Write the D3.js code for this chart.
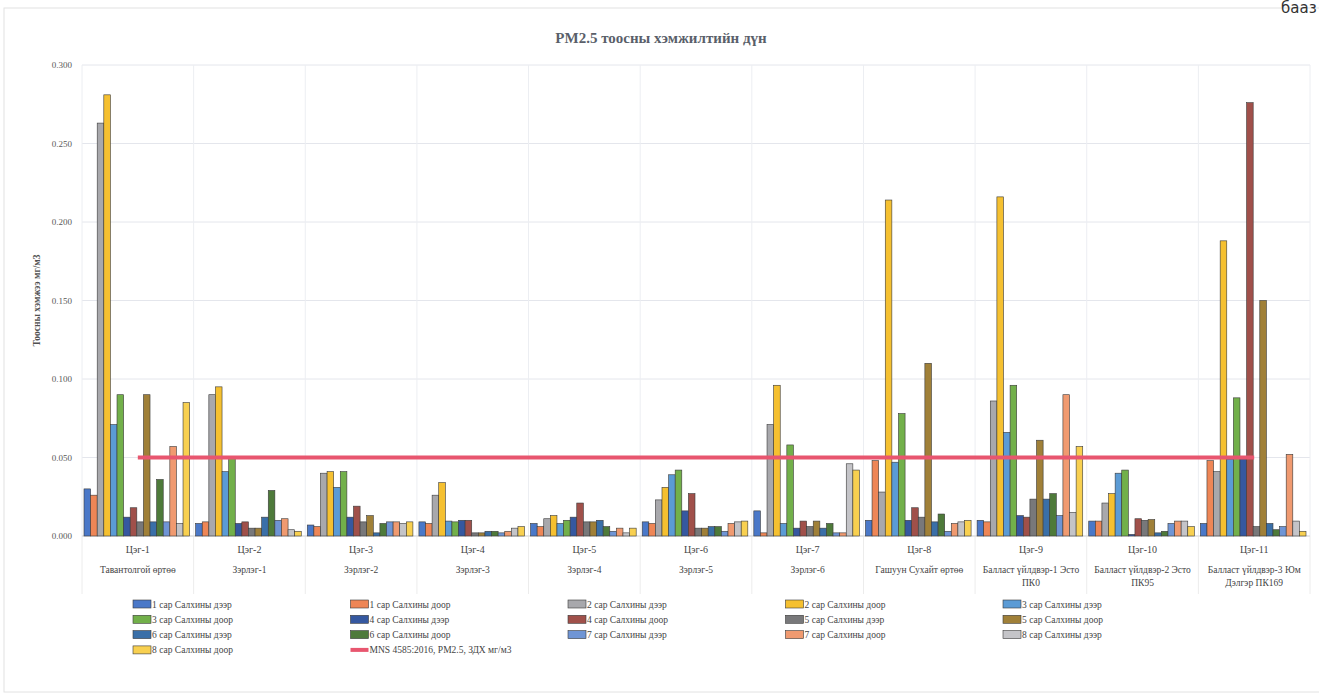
<!DOCTYPE html>
<html>
<head>
<meta charset="utf-8">
<script src="https://cdn.jsdelivr.net/npm/d3@7"></script>
<style>
  body { margin: 0; background: #fff; }
  svg text { font-family: "Liberation Serif", "DejaVu Serif", serif; }
</style>
</head>
<body>
<script>
// PM2.5 measurement results, 11 points x 16 series + limit line
var categories = ['Цэг-1', 'Цэг-2', 'Цэг-3', 'Цэг-4', 'Цэг-5', 'Цэг-6', 'Цэг-7', 'Цэг-8', 'Цэг-9', 'Цэг-10', 'Цэг-11'];
var locations = [
  ['Тавантолгой өртөө'], ['Зэрлэг-1'], ['Зэрлэг-2'], ['Зэрлэг-3'], ['Зэрлэг-4'], ['Зэрлэг-5'], ['Зэрлэг-6'],
  ['Гашуун Сухайт өртөө'], ['Балласт үйлдвэр-1 Эсто', 'ПК0'], ['Балласт үйлдвэр-2 Эсто', 'ПК95'],
  ['Балласт үйлдвэр-3 Юм', 'Дэлгэр ПК169']
];
var seriesNames = [
  '1 сар Салхины дээр', '1 сар Салхины доор', '2 сар Салхины дээр', '2 сар Салхины доор',
  '3 сар Салхины дээр', '3 сар Салхины доор', '4 сар Салхины дээр', '4 сар Салхины доор',
  '5 сар Салхины дээр', '5 сар Салхины доор', '6 сар Салхины дээр', '6 сар Салхины доор',
  '7 сар Салхины дээр', '7 сар Салхины доор', '8 сар Салхины дээр', '8 сар Салхины доор'
];
var seriesColors = ['#4a78c8', '#ee8656', '#a8a8ac', '#f5c030', '#5b9bd5', '#72b04a', '#3558a0', '#a0504a',
                    '#78787a', '#a08038', '#3a6fa8', '#4e7a3a', '#6f95d5', '#f09a70', '#c4c4c8', '#f8d050'];
var limitName = 'MNS 4585:2016, PM2.5, ЗДХ мг/м3';
var limitValue = 0.05;
var yTicks = [0, 0.05, 0.1, 0.15, 0.2, 0.25, 0.3];

// values per point, in series order
var tseg1  = [0.030, 0.026, 0.263, 0.281, 0.071, 0.090, 0.012, 0.018, 0.009, 0.090, 0.009, 0.036, 0.009, 0.057, 0.008, 0.085];
var tseg2  = [0.008, 0.009, 0.090, 0.095, 0.041, 0.050, 0.008, 0.009, 0.005, 0.005, 0.012, 0.029, 0.010, 0.011, 0.004, 0.003];
var tseg3  = [0.007, 0.006, 0.040, 0.041, 0.031, 0.041, 0.012, 0.019, 0.009, 0.013, 0.002, 0.008, 0.009, 0.009, 0.008, 0.009];
var tseg4  = [0.009, 0.008, 0.026, 0.034, 0.0095, 0.009, 0.010, 0.010, 0.002, 0.002, 0.003, 0.003, 0.002, 0.003, 0.005, 0.006];
var tseg5  = [0.008, 0.006, 0.011, 0.013, 0.008, 0.010, 0.012, 0.021, 0.009, 0.009, 0.010, 0.006, 0.003, 0.005, 0.002, 0.005];
var tseg6  = [0.009, 0.008, 0.023, 0.031, 0.039, 0.042, 0.016, 0.027, 0.005, 0.005, 0.006, 0.006, 0.003, 0.008, 0.009, 0.0095];
var tseg7  = [0.016, 0.002, 0.071, 0.096, 0.008, 0.058, 0.005, 0.0095, 0.006, 0.0095, 0.005, 0.008, 0.002, 0.002, 0.046, 0.042];
var tseg8  = [0.010, 0.048, 0.028, 0.214, 0.047, 0.078, 0.010, 0.018, 0.012, 0.110, 0.009, 0.014, 0.003, 0.008, 0.009, 0.010];
var tseg9  = [0.010, 0.009, 0.086, 0.216, 0.066, 0.096, 0.013, 0.012, 0.0235, 0.061, 0.0235, 0.027, 0.013, 0.090, 0.015, 0.057];
var tseg10 = [0.0095, 0.0095, 0.021, 0.027, 0.040, 0.042, 0.001, 0.011, 0.010, 0.0105, 0.002, 0.003, 0.008, 0.0095, 0.0095, 0.006];
var tseg11 = [0.008, 0.048, 0.041, 0.188, 0.049, 0.088, 0.049, 0.276, 0.006, 0.150, 0.008, 0.004, 0.006, 0.052, 0.0095, 0.003];
var pointValues = [tseg1, tseg2, tseg3, tseg4, tseg5, tseg6, tseg7, tseg8, tseg9, tseg10, tseg11];

var width = 1319, height = 697;
var margin = {top: 65, right: 9, bottom: 161, left: 82};

var svg = d3.select('body').append('svg')
  .attr('width', width)
  .attr('height', height);

// chart frame
svg.append('rect')
  .attr('x', 4).attr('y', 8)
  .attr('width', width + 10).attr('height', 684)
  .attr('fill', 'none').attr('stroke', '#e2e2e2');

// leftover text from the scanned page
svg.append('text')
  .attr('x', 1281).attr('y', 13)
  .style('font-family', 'DejaVu Sans, sans-serif')
  .attr('font-size', 15).attr('fill', '#333')
  .text('бааз');

var x0 = d3.scaleBand()
  .domain(categories)
  .range([margin.left, width - margin.right])
  .paddingInner(0).paddingOuter(0);

var x1 = d3.scaleBand()
  .domain(d3.range(seriesNames.length))
  .range([2, x0.bandwidth() - 4])
  .padding(0);

var y = d3.scaleLinear()
  .domain([0, 0.3])
  .range([height - margin.bottom, margin.top]);

var plotBottom = height - margin.bottom;

// gridlines
svg.append('g')
  .selectAll('line')
  .data(yTicks)
  .enter()
  .append('line')
  .attr('x1', margin.left).attr('x2', width - margin.right)
  .attr('y1', function(d) { return y(d); })
  .attr('y2', function(d) { return y(d); })
  .attr('stroke', '#e4e6ec').attr('stroke-width', 1);

svg.append('g')
  .selectAll('line')
  .data(categories.concat(['end']))
  .enter()
  .append('line')
  .attr('x1', function(d, i) { return margin.left + i * x0.step(); })
  .attr('x2', function(d, i) { return margin.left + i * x0.step(); })
  .attr('y1', margin.top).attr('y2', plotBottom)
  .attr('stroke', '#eceef2');

// label separators under axis
svg.append('g')
  .selectAll('line')
  .data(categories.concat(['end']))
  .enter()
  .append('line')
  .attr('x1', function(d, i) { return margin.left + i * x0.step(); })
  .attr('x2', function(d, i) { return margin.left + i * x0.step(); })
  .attr('y1', plotBottom).attr('y2', plotBottom + 58)
  .attr('stroke', '#ececec');

// y axis
var yAxis = d3.axisLeft(y)
  .tickValues(yTicks)
  .tickFormat(d3.format('.3f'))
  .tickSize(0)
  .tickPadding(10);

var yg = svg.append('g')
  .attr('transform', 'translate(' + margin.left + ',0)')
  .call(yAxis);
yg.select('.domain').remove();
yg.selectAll('text')
  .attr('font-size', 9)
  .attr('fill', '#595959');

svg.append('text')
  .attr('transform', 'translate(40,' + ((margin.top + plotBottom) / 2) + ') rotate(-90)')
  .attr('text-anchor', 'middle')
  .attr('font-size', 9.5)
  .attr('font-weight', 'bold')
  .attr('fill', '#505050')
  .text('Тоосны хэмжээ мг/м3');

// x axis line
svg.append('line')
  .attr('x1', margin.left).attr('x2', width - margin.right)
  .attr('y1', plotBottom).attr('y2', plotBottom)
  .attr('stroke', '#d9d9d9');

// bars
var groups = svg.append('g')
  .selectAll('g')
  .data(pointValues)
  .enter()
  .append('g')
  .attr('transform', function(d, i) { return 'translate(' + x0(categories[i]) + ',0)'; });

groups.selectAll('rect')
  .data(function(d) { return d; })
  .enter()
  .append('rect')
  .attr('x', function(d, i) { return x1(i); })
  .attr('y', function(d) { return y(d); })
  .attr('width', x1.bandwidth())
  .attr('height', function(d) { return plotBottom - y(d); })
  .attr('fill', function(d, i) { return seriesColors[i]; })
  .attr('stroke', '#3a3a3a')
  .attr('stroke-width', 0.6);

// limit line
var limitLine = d3.line()
  .x(function(d) { return x0(d) + x0.bandwidth() / 2; })
  .y(function() { return y(limitValue); });

svg.append('path')
  .datum(categories)
  .attr('d', limitLine)
  .attr('fill', 'none')
  .attr('stroke', '#e8566f')
  .attr('stroke-width', 4);

// category labels
var labels = svg.append('g')
  .selectAll('g')
  .data(categories)
  .enter()
  .append('g')
  .attr('transform', function(d) { return 'translate(' + (x0(d) + x0.bandwidth() / 2) + ',0)'; });

labels.append('text')
  .attr('y', plotBottom + 17)
  .attr('text-anchor', 'middle')
  .attr('font-size', 10)
  .attr('fill', '#444')
  .text(function(d) { return d; });

labels.each(function(d, i) {
  d3.select(this).selectAll('text.loc')
    .data(locations[i])
    .enter()
    .append('text')
    .attr('class', 'loc')
    .attr('y', function(t, j) { return plotBottom + 37 + j * 13; })
    .attr('text-anchor', 'middle')
    .attr('font-size', 9.5)
    .attr('fill', '#444')
    .text(function(t) { return t; });
});

// title
svg.append('text')
  .attr('x', 661).attr('y', 43)
  .attr('text-anchor', 'middle')
  .attr('font-size', 15)
  .attr('font-weight', 'bold')
  .attr('fill', '#5a5f6a')
  .text('PM2.5 тоосны хэмжилтийн дүн');

// legend
var legendItems = seriesNames.map(function(n, i) { return {name: n, color: seriesColors[i], line: false}; });
legendItems.push({name: limitName, color: '#e8566f', line: true});

var legend = svg.append('g')
  .selectAll('g')
  .data(legendItems)
  .enter()
  .append('g')
  .attr('transform', function(d, i) {
    return 'translate(' + (133 + (i % 5) * 217.5) + ',' + (604 + Math.floor(i / 5) * 15.3) + ')';
  });

legend.filter(function(d) { return !d.line; })
  .append('rect')
  .attr('x', 0).attr('y', -4)
  .attr('width', 18).attr('height', 8)
  .attr('fill', function(d) { return d.color; })
  .attr('stroke', '#3a3a3a')
  .attr('stroke-width', 0.6);

legend.filter(function(d) { return d.line; })
  .append('line')
  .attr('x1', 0).attr('x2', 18)
  .attr('y1', 0).attr('y2', 0)
  .attr('stroke', function(d) { return d.color; })
  .attr('stroke-width', 4);

legend.append('text')
  .attr('x', 19).attr('y', 3.5)
  .attr('font-size', 9.5)
  .attr('fill', '#444')
  .text(function(d) { return d.name; });
</script>
</body>
</html>
